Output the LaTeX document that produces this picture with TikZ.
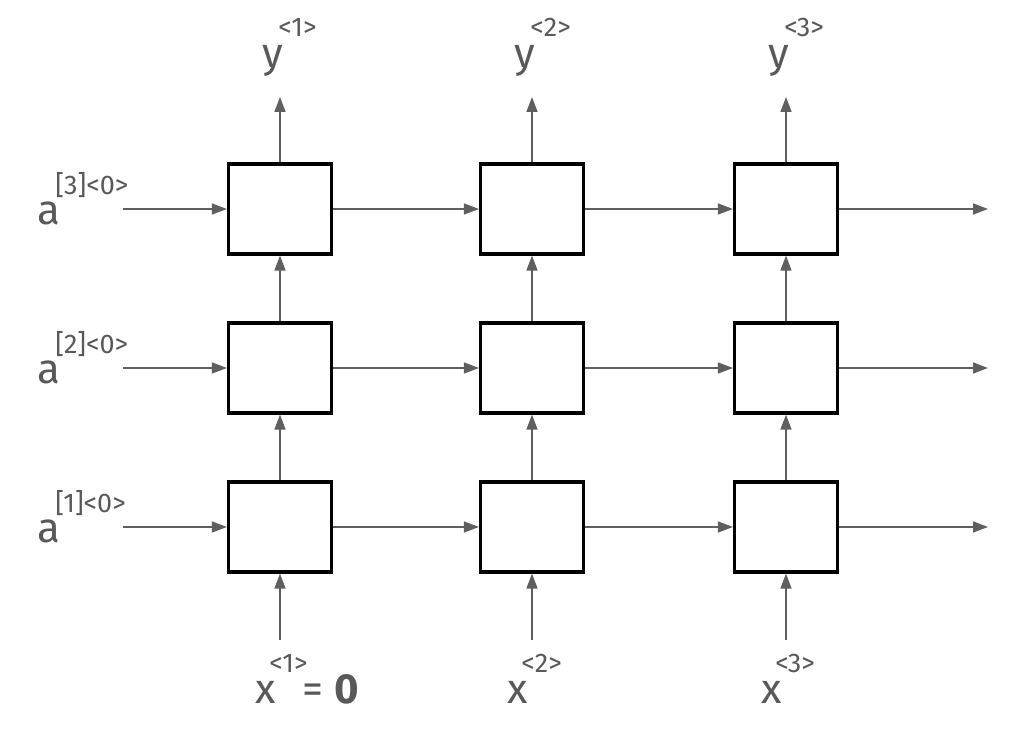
\documentclass[tikz,border=0pt]{standalone}
\usepackage{fontspec}
\setmainfont{Fira Sans}
\usetikzlibrary{arrows.meta}
\definecolor{txtgray}{HTML}{595959}
\definecolor{arrgray}{HTML}{5F5F5F}
\tikzset{
  cell/.style={draw=black, line width=1.6pt, fill=white, minimum width=51.5pt, minimum height=45pt, inner sep=0pt},
  conn/.style={draw=arrgray, line width=0.75pt, -{Triangle[length=7.5pt,width=5.5pt]}},
  mainlbl/.style={text=txtgray, font=\fontsize{21}{24}\selectfont, inner sep=0pt, anchor=base west},
  suplbl/.style={text=txtgray, font=\fontsize{13.5}{15}\selectfont, inner sep=0pt, anchor=base west},
}
\begin{document}
\begin{tikzpicture}[x=0.5pt,y=-0.5pt]
\useasboundingbox (0,0) rectangle (1030,737);
% cells: columns c1..c3, rows r1 (bottom) .. r3 (top)
\foreach \c/\cx in {1/280,2/532,3/786}{
  \foreach \r/\ry in {1/527,2/368,3/209}{
    \node[cell] (b\c\r) at (\cx,\ry) {};
  }
}
% left inputs
\foreach \r/\ry in {1/527,2/368,3/209}{
  \coordinate (in\r) at (123,\ry);
  \coordinate (out\r) at (988,\ry);
  \draw[conn] (in\r) -- (b1\r.west);
  \draw[conn] (b1\r.east) -- (b2\r.west);
  \draw[conn] (b2\r.east) -- (b3\r.west);
  \draw[conn] (b3\r.east) -- (out\r);
}
% vertical
\foreach \c/\cx in {1/280,2/532,3/786}{
  \coordinate (xin\c) at (\cx,640);
  \coordinate (yout\c) at (\cx,97);
  \draw[conn] (xin\c) -- (b\c1.south);
  \draw[conn] (b\c1.north) -- (b\c2.south);
  \draw[conn] (b\c2.north) -- (b\c3.south);
  \draw[conn] (b\c3.north) -- (yout\c);
}
% a labels
\foreach \r/\ry in {1/527,2/368,3/209}{
  \node[mainlbl] (a\r) at (37,\ry+16) {a};
  \node[suplbl] (as\r) at (55,\ry-14) {[\r]<0>};
}
% y labels
\foreach \c/\dx in {1/0,2/252,3/506}{
  \node[mainlbl] (y\c) at (262+\dx,68) {y};
  \node[suplbl] (ys\c) at (278+\dx,37) {<\c>};
}
% x labels
\foreach \c/\dx in {1/0,2/252,3/506}{
  \node[mainlbl] (x\c) at (255+\dx,704) {x};
  \node[suplbl] (xs\c) at (269+\dx,673) {<\c>};
}
\node[mainlbl] (eq) at (302,704) {= \textbf{0}};
\end{tikzpicture}
\end{document}
